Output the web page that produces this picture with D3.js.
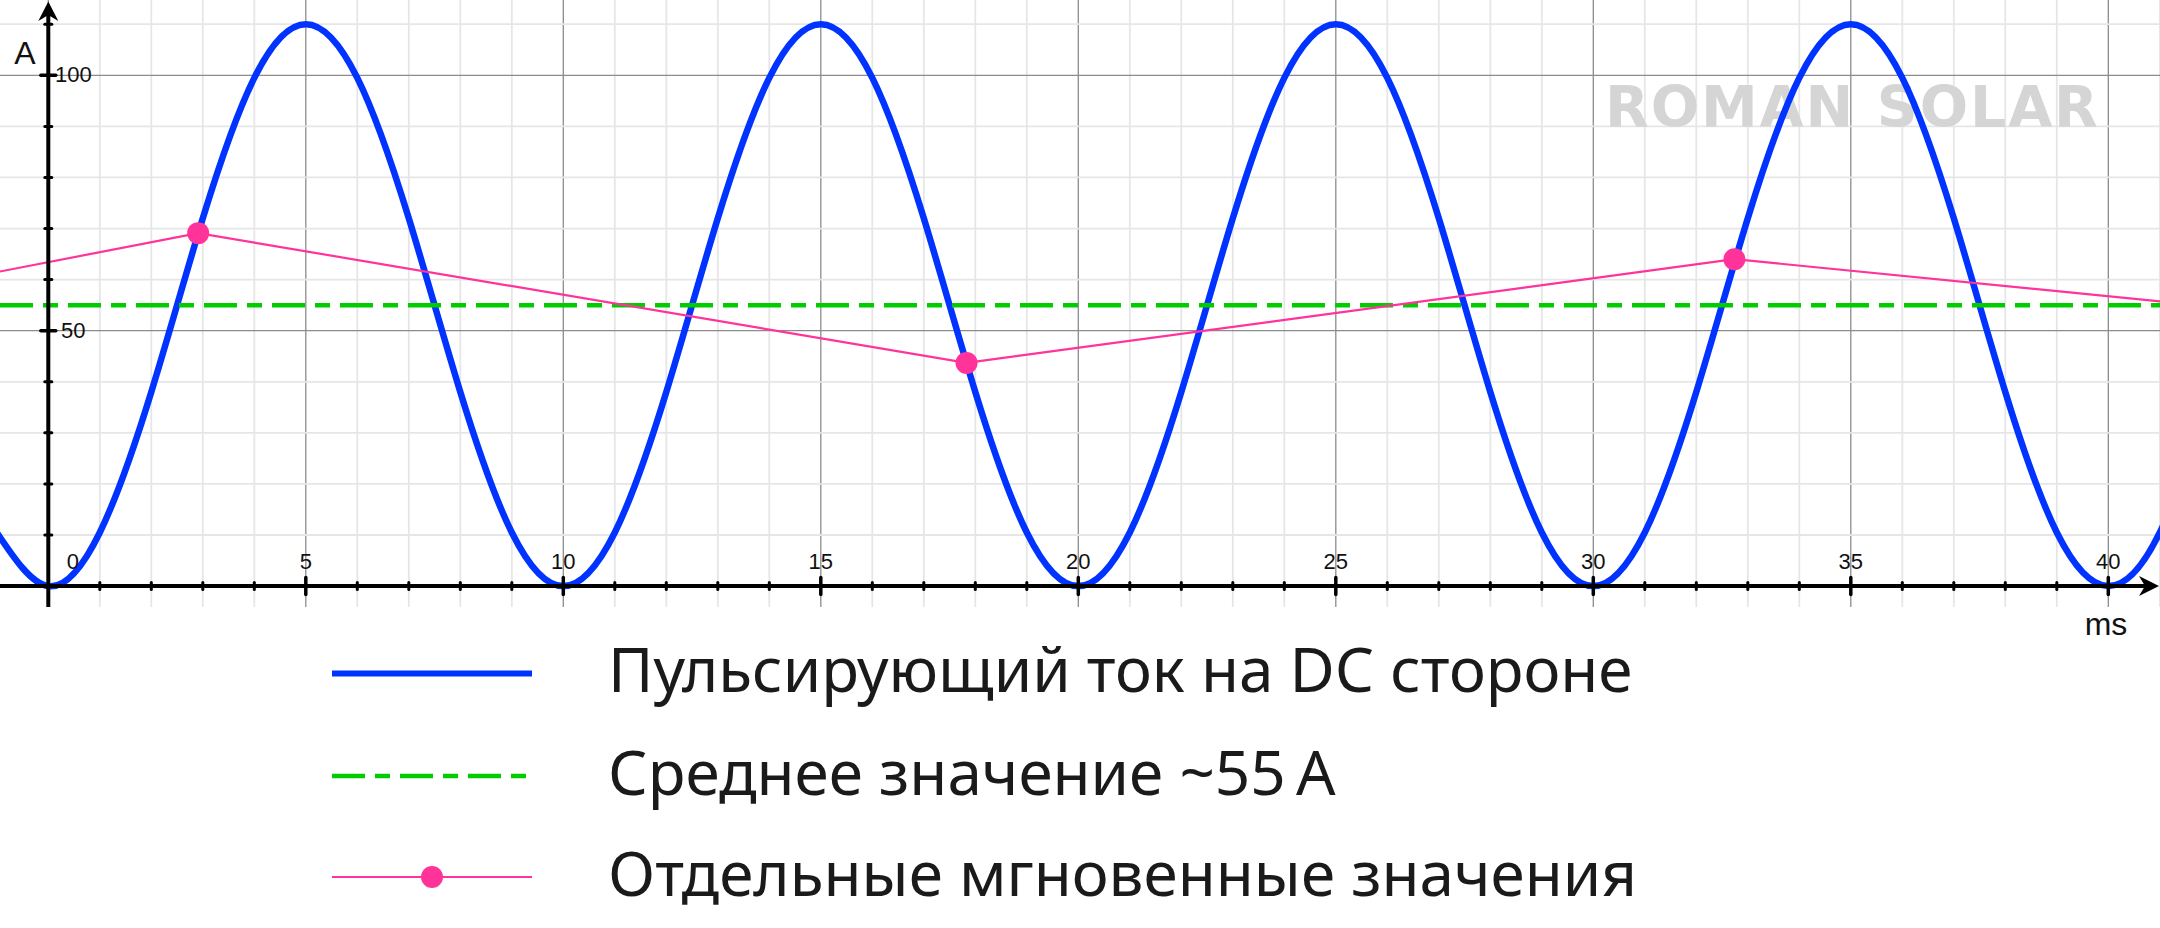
<!DOCTYPE html>
<html>
<head>
<meta charset="utf-8">
<script src="https://cdn.jsdelivr.net/npm/d3@7/dist/d3.min.js"></script>
<style>
body{margin:0;background:#fff;}
svg{display:block;}
</style>
</head>
<body>
<svg id="chart" width="2160" height="928"></svg>
<script>
// pulsating DC current (ms / A)
var pulseMs = [-1, 0, 1, 2, 3, 4, 5, 6, 7, 8, 9, 10, 11, 12, 13, 14, 15, 16, 17, 18, 19, 20, 21,
               22, 23, 24, 25, 26, 27, 28, 29, 30, 31, 32, 33, 34, 35, 36, 37, 38, 39, 40, 41, 42];
var pulseA  = [10.5, 0, 10.5, 38, 72, 99.5, 110, 99.5, 72, 38, 10.5, 0, 10.5, 38, 72, 99.5, 110, 99.5, 72, 38, 10.5, 0, 10.5,
               38, 72, 99.5, 110, 99.5, 72, 38, 10.5, 0, 10.5, 38, 72, 99.5, 110, 99.5, 72, 38, 10.5, 0, 10.5, 38];
// mean value
var meanA = 55;
// separate instantaneous samples (first and last lie outside the view)
var sampleMs = [-12, 2.91, 17.83, 32.74, 47.65];
var sampleA  = [40, 69.1, 43.7, 64.0, 49.1];
// axis labels
var xTickLabels = [0, 5, 10, 15, 20, 25, 30, 35, 40];
var yTickLabels = [50, 100];
var legendLabels = ["Пульсирующий ток на DC стороне", "Среднее значение ~55\u2009А", "Отдельные мгновенные значения"];

var W = 2160, H = 928;
var blue = "#0033ff", green = "#00cc00", pink = "#ff3399";
var svg = d3.select("#chart");

var x = d3.scaleLinear().domain([0, 40]).range([48.3, 2108.3]);
var y = d3.scaleLinear().domain([0, 100]).range([586.1, 75.3]);

var x0 = x(0), y0 = y(0);
var bottom = 607;

// grid
var grid = svg.append("g");
d3.range(0, 42).forEach(function(t){
	grid.append("line")
		.attr("x1", x(t)).attr("x2", x(t))
		.attr("y1", 0).attr("y2", bottom)
		.attr("stroke", t % 5 == 0 ? "#8c8c8c" : "#e6e6e6")
		.attr("stroke-width", t % 5 == 0 ? 1.3 : 1.8);
});
d3.range(10, 111, 10).forEach(function(v){
	grid.append("line")
		.attr("x1", 0).attr("x2", W)
		.attr("y1", y(v)).attr("y2", y(v))
		.attr("stroke", v % 50 == 0 ? "#8c8c8c" : "#e6e6e6")
		.attr("stroke-width", v % 50 == 0 ? 1.3 : 1.8);
});

// watermark
svg.append("text")
	.text("ROMAN SOLAR")
	.attr("x", 1605).attr("y", 127)
	.attr("textLength", 493).attr("lengthAdjust", "spacing")
	.attr("fill", "#d5d5d5")
	.style("font-family", "'DejaVu Sans', sans-serif")
	.style("font-weight", 700)
	.style("font-size", "57px");

// pulsating current
var pulse = d3.line()
	.x(function(d, i){ return x(pulseMs[i]); })
	.y(function(d){ return y(d); })
	.curve(d3.curveNatural);
svg.append("path")
	.datum(pulseA)
	.attr("d", pulse)
	.attr("fill", "none")
	.attr("stroke", blue)
	.attr("stroke-width", 6.5);

// mean line
svg.append("line")
	.attr("x1", 0).attr("x2", W)
	.attr("y1", y(meanA)).attr("y2", y(meanA))
	.attr("stroke", green)
	.attr("stroke-width", 4.5)
	.attr("stroke-dasharray", "33,10,15,10");

// samples
var sampleLine = d3.line()
	.x(function(d, i){ return x(sampleMs[i]); })
	.y(function(d){ return y(d); });
svg.append("path")
	.datum(sampleA)
	.attr("d", sampleLine)
	.attr("fill", "none")
	.attr("stroke", pink)
	.attr("stroke-width", 2.2);
svg.selectAll(".dot")
	.data(sampleA)
	.enter().append("circle")
	.attr("cx", function(d, i){ return x(sampleMs[i]); })
	.attr("cy", function(d){ return y(d); })
	.attr("r", 11)
	.attr("fill", pink);

// axes
var ax = svg.append("g");
ax.append("line").attr("x1", x0).attr("x2", x0).attr("y1", 10).attr("y2", bottom)
	.attr("stroke", "#000").attr("stroke-width", 4);
ax.append("line").attr("x1", 0).attr("x2", W - 10).attr("y1", y0).attr("y2", y0)
	.attr("stroke", "#000").attr("stroke-width", 4);
// arrow heads
ax.append("path")
	.attr("d", "M" + x0 + ",1.5 L" + (x0 + 10) + ",21 L" + x0 + ",15 L" + (x0 - 10) + ",21 Z")
	.attr("fill", "#000");
ax.append("path")
	.attr("d", "M" + (W - 1) + "," + y0 + " L" + (W - 21) + "," + (y0 + 10) + " L" + (W - 15) + "," + y0 + " L" + (W - 21) + "," + (y0 - 10) + " Z")
	.attr("fill", "#000");

// ticks
d3.range(1, 41).forEach(function(t){
	var h = t % 5 == 0 ? 8.5 : 3.5;
	ax.append("line")
		.attr("x1", x(t)).attr("x2", x(t))
		.attr("y1", y0 - h).attr("y2", y0 + h)
		.attr("stroke", "#000").attr("stroke-width", t % 5 == 0 ? 3.5 : 3)
		.attr("stroke-linecap", "round");
});
d3.range(10, 111, 10).forEach(function(v){
	var w = v % 50 == 0 ? 7.5 : 3.5;
	ax.append("line")
		.attr("x1", x0 - w).attr("x2", x0 + w)
		.attr("y1", y(v)).attr("y2", y(v))
		.attr("stroke", "#000").attr("stroke-width", v % 50 == 0 ? 3.5 : 3)
		.attr("stroke-linecap", "round");
});

// tick labels
var lab = svg.append("g")
	.style("font-family", "'Liberation Sans', Arial, sans-serif")
	.style("font-size", "22px")
	.attr("fill", "#111");
xTickLabels.forEach(function(t){
	lab.append("text")
		.text(t)
		.attr("x", t == 0 ? x(t) + 24.5 : x(t))
		.attr("y", y0 - 17.5)
		.attr("text-anchor", "middle");
});
yTickLabels.forEach(function(v){
	lab.append("text")
		.text(v)
		.attr("x", x0 + 25)
		.attr("y", y(v) + 7)
		.attr("text-anchor", "middle");
});
svg.append("text").text("A")
	.attr("x", 25).attr("y", 63.5).attr("text-anchor", "middle")
	.style("font-family", "'Liberation Sans', Arial, sans-serif")
	.style("font-size", "32px").attr("fill", "#111");
svg.append("text").text("ms")
	.attr("x", 2106).attr("y", 635).attr("text-anchor", "middle")
	.style("font-family", "'Liberation Sans', Arial, sans-serif")
	.style("font-size", "32px").attr("fill", "#111");

// legend
var legendY = [673.5, 776, 877];
var lg = svg.append("g");
lg.append("line").attr("x1", 332).attr("x2", 532).attr("y1", legendY[0]).attr("y2", legendY[0])
	.attr("stroke", blue).attr("stroke-width", 6);
lg.append("line").attr("x1", 332).attr("x2", 532).attr("y1", legendY[1]).attr("y2", legendY[1])
	.attr("stroke", green).attr("stroke-width", 4.5).attr("stroke-dasharray", "33,10,15,10");
lg.append("line").attr("x1", 332).attr("x2", 532).attr("y1", legendY[2]).attr("y2", legendY[2])
	.attr("stroke", pink).attr("stroke-width", 2.2);
lg.append("circle").attr("cx", 432).attr("cy", legendY[2]).attr("r", 11).attr("fill", pink);
lg.selectAll("text")
	.data(legendLabels)
	.enter().append("text")
	.text(function(d){ return d; })
	.attr("x", 608)
	.attr("y", function(d, i){ return legendY[i] + 18.5; })
	.attr("fill", "#1a1a1a")
	.style("font-family", "'Noto Sans', 'Open Sans', sans-serif")
	.style("font-size", "62px");
</script>
</body>
</html>
